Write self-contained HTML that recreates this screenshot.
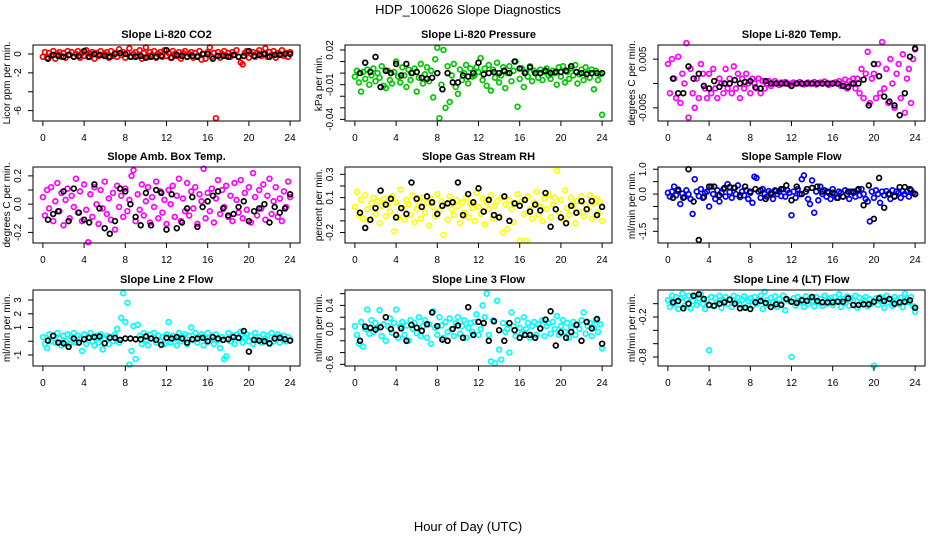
<!DOCTYPE html>
<html><head><meta charset="utf-8"><style>
html,body{margin:0;padding:0;background:#fff}
svg{display:block;font-family:"Liberation Sans",sans-serif}
</style></head><body>
<svg id="chart" width="936" height="540" viewBox="0 0 936 540" xmlns="http://www.w3.org/2000/svg">
<rect width="936" height="540" fill="#fff"/>
<text x="468" y="14" font-size="13" text-anchor="middle">HDP_100626  Slope Diagnostics</text>
<text x="468" y="531" font-size="13" text-anchor="middle">Hour of Day (UTC)</text>
</svg>
<script>
const TIME=[0,0.2,0.4,0.6,0.8,1,1.2,1.4,1.6,1.8,2,2.2,2.4,2.6,2.8,3,3.2,3.4,3.6,3.8,4,4.2,4.4,4.6,4.8,5,5.2,5.4,5.6,5.8,6,6.2,6.4,6.6,6.8,7,7.2,7.4,7.6,7.8,8,8.2,8.4,8.6,8.8,9,9.2,9.4,9.6,9.8,10,10.2,10.4,10.6,10.8,11,11.2,11.4,11.6,11.8,12,12.2,12.4,12.6,12.8,13,13.2,13.4,13.6,13.8,14,14.2,14.4,14.6,14.8,15,15.2,15.4,15.6,15.8,16,16.2,16.4,16.6,16.8,17,17.2,17.4,17.6,17.8,18,18.2,18.4,18.6,18.8,19,19.2,19.4,19.6,19.8,20,20.2,20.4,20.6,20.8,21,21.2,21.4,21.6,21.8,22,22.2,22.4,22.6,22.8,23,23.2,23.4,23.6,23.8,24];
const BLACK_TIME=[0.5,1,1.5,2,2.5,3,3.5,4,4.5,5,5.5,6,6.5,7,7.5,8,8.5,9,9.5,10,10.5,11,11.5,12,12.5,13,13.5,14,14.5,15,15.5,16,16.5,17,17.5,18,18.5,19,19.5,20,20.5,21,21.5,22,22.5,23,23.5,24];
const X_TICKS=[0,4,8,12,16,20,24];

const co2=[-0.3,0.2,-0.4,0.1,-0.2,0.3,-0.5,0.0,0.2,-0.3,0.1,-0.4,0.3,-0.1,0.2,-0.3,0.0,0.3,-0.4,0.1,-0.2,0.4,-0.3,0.0,0.2,-0.5,0.1,-0.2,0.3,-0.1,0.0,0.2,-0.4,0.3,-0.2,0.1,-0.3,0.5,-0.1,0.2,-0.4,0.1,0.6,-0.3,0.0,0.2,-0.2,0.4,-0.5,0.1,0.7,-0.3,0.2,-0.1,0.3,-0.4,0.0,0.2,-0.3,0.4,-0.2,0.1,-0.4,0.3,0.0,-0.2,0.2,-0.5,0.1,0.3,-0.3,0.0,0.2,-0.4,0.1,-0.2,0.3,-0.6,0.0,-0.5,0.2,0.7,-0.3,0.1,-6.8,0.2,-0.4,0.0,0.3,-0.2,0.1,-0.3,0.2,-0.1,0.4,-0.3,-0.9,-1.1,0.1,0.3,-0.4,0.0,0.2,-0.3,0.1,0.4,-0.2,0.0,0.6,-0.3,0.2,-0.1,0.3,-0.4,0.1,0.0,0.4,-0.2,0.1,-0.3,0.2];
const co2Mean=[-0.5,-0.1,-0.2,-0.3,-0.1,-0.3,-0.2,0.3,-0.3,0.0,-0.1,-0.2,-0.3,0.0,0.1,0.0,-0.3,-0.3,-0.2,-0.4,-0.3,-0.3,-0.2,0.4,-0.4,-0.1,-0.2,-0.3,-0.2,-0.3,0.0,0.0,-0.5,-0.2,-0.2,-0.3,-0.1,-0.3,-0.2,0.3,-0.2,-0.1,0.0,-0.3,-0.1,-0.1,0.0,0.0];
const pres=[-0.003,0.002,-0.008,-0.016,0.001,-0.005,0.003,-0.010,-0.002,0.004,-0.007,0.000,-0.004,0.006,-0.011,-0.013,0.002,-0.006,-0.009,0.001,0.010,-0.003,-0.008,0.005,-0.002,-0.012,0.003,-0.006,0.000,0.004,-0.016,-0.004,0.008,-0.009,-0.001,0.005,-0.007,0.002,-0.021,0.012,0.022,-0.039,-0.010,0.020,-0.030,0.006,-0.025,-0.002,0.008,-0.012,-0.018,0.003,-0.006,0.000,0.007,-0.009,0.004,-0.003,-0.002,0.005,0.001,0.013,-0.006,0.004,-0.011,0.007,-0.015,0.003,-0.004,0.009,-0.008,-0.002,0.005,-0.013,0.000,0.006,-0.007,0.002,0.010,-0.029,-0.005,0.004,-0.012,0.001,-0.003,0.006,-0.007,0.002,0.000,-0.004,0.003,-0.006,0.001,0.004,-0.002,-0.005,0.002,0.000,-0.010,0.005,-0.003,0.006,-0.008,0.001,-0.005,0.004,-0.002,0.007,-0.009,-0.001,0.003,-0.006,0.005,0.000,-0.004,0.003,-0.014,0.002,-0.006,-0.001,-0.036];
const presMean=[0.0,0.009,0.001,0.014,-0.012,0.002,0.000,0.008,-0.002,0.008,0.000,0.001,-0.004,-0.005,-0.004,0.0,-0.014,0.0,-0.008,-0.008,-0.002,-0.003,0.0,0.009,-0.001,0.0,0.001,0.0,0.002,0.0,0.010,0.004,0.0,0.005,0.0,0.0,0.002,0.0,0.001,0.001,0.002,0.006,0.001,0.0,-0.001,0.0,0.0,0.0];
const temp=[0.004,-0.002,0.005,0.001,-0.003,0.0055,-0.004,0.002,0.0,0.0083,-0.007,0.003,-0.002,-0.005,0.001,-0.003,0.004,0.002,-0.001,-0.003,0.002,-0.002,0.003,-0.001,-0.003,0.001,0.0,-0.002,0.003,-0.001,0.001,-0.002,0.0035,-0.001,0.002,-0.003,0.001,-0.001,0.002,0.0,-0.002,0.001,0.0,-0.001,0.001,-0.002,0.0005,-0.001,0.0,0.0005,-0.0005,0.0,0.0005,0.0,-0.0003,0.0002,0.0,0.0003,0.0,-0.0002,0.0,0.0002,0.0,0.0,0.0003,0.0,-0.0002,0.0,0.0002,0.0,0.0,0.0003,-0.0002,0.0,0.0002,0.0,0.0004,0.0,-0.0003,0.0,0.0,0.0002,0.0,0.0005,-0.0005,0.0,0.0008,-0.001,0.0005,0.0,0.001,-0.001,0.001,-0.002,0.003,-0.003,0.002,0.0065,-0.004,0.001,0.002,-0.003,0.004,-0.002,0.0085,-0.001,0.003,-0.004,0.005,0.0,-0.005,0.002,0.004,-0.003,0.006,-0.006,0.001,0.003,-0.004,0.005,0.007];
const tempMean=[0.001,-0.002,-0.002,0.0035,0.001,0.002,-0.0005,-0.001,0.0005,-0.0007,0.0,0.0,0.0007,0.0,0.0003,0.0005,-0.0008,-0.001,0.0005,0.0,0.0,0.0,0.0,-0.0005,0.0,0.0,0.0,0.0,0.0,0.0,0.0,0.0,0.0,-0.0005,-0.0007,0.0,0.0,0.0008,-0.0045,0.004,0.0015,-0.0027,-0.0037,-0.0045,-0.0065,-0.002,0.0055,0.0072];
const amb=[0.05,-0.08,0.1,-0.03,0.12,-0.12,0.02,0.15,-0.05,0.08,-0.15,0.03,0.11,-0.1,0.06,-0.02,0.18,-0.06,0.09,-0.12,0.14,-0.04,-0.27,0.07,-0.09,0.12,0.0,-0.14,0.1,-0.03,0.16,-0.07,0.04,-0.11,0.08,-0.18,0.13,-0.02,0.06,-0.09,0.11,-0.05,0.03,0.2,0.24,-0.12,0.07,-0.04,0.14,-0.08,0.02,0.12,-0.13,0.05,-0.02,0.16,-0.1,0.09,-0.06,0.03,-0.14,0.1,0.0,0.13,-0.09,0.06,0.18,-0.12,0.04,-0.05,0.15,-0.08,0.09,-0.03,0.12,-0.14,0.07,0.02,0.25,-0.1,0.08,-0.05,0.11,-0.13,0.04,0.17,-0.07,0.1,-0.02,0.13,-0.09,0.06,-0.12,0.15,0.03,-0.06,0.17,-0.1,0.08,-0.04,0.12,-0.13,0.22,0.05,-0.08,0.1,-0.03,0.14,-0.11,0.06,0.18,-0.07,0.02,0.12,-0.09,0.04,-0.12,0.09,-0.02,0.16,0.05];
const ambMean=[-0.11,-0.07,-0.05,0.09,-0.12,0.11,-0.06,-0.11,-0.13,0.14,-0.03,-0.17,-0.21,-0.12,0.11,0.09,0.0,-0.09,-0.15,0.08,-0.15,0.1,0.08,-0.18,0.07,-0.17,-0.13,-0.03,0.05,-0.16,-0.02,0.02,0.06,0.09,-0.03,-0.08,-0.07,-0.02,0.02,-0.12,-0.05,-0.03,0.0,-0.13,-0.02,-0.06,-0.03,0.07];
const rh=[0.02,0.15,-0.05,0.08,-0.08,0.12,0.0,-0.1,0.05,0.1,-0.04,0.07,-0.12,0.03,0.09,-0.06,0.04,-0.02,0.11,-0.19,0.06,-0.07,0.17,0.01,-0.09,0.08,0.04,-0.05,0.12,-0.11,0.0,0.06,-0.08,0.1,-0.03,0.05,-0.14,0.09,0.02,-0.06,0.13,-0.01,0.07,-0.22,0.04,-0.09,0.11,0.0,-0.05,0.08,0.03,-0.12,0.06,-0.03,0.1,-0.07,0.05,0.01,-0.1,0.14,0.02,-0.04,0.09,-0.13,0.06,0.0,0.12,-0.08,0.03,0.07,-0.06,0.1,-0.2,0.04,-0.17,0.08,0.0,-0.11,0.05,0.13,-0.27,0.07,-0.04,-0.27,0.11,0.0,-0.08,0.06,0.15,-0.05,0.02,-0.1,0.09,0.0,0.13,-0.07,0.04,0.1,0.33,-0.03,0.08,-0.09,0.16,0.01,-0.05,0.1,0.03,-0.12,0.07,-0.02,0.11,-0.06,0.04,0.0,0.12,-0.08,0.05,0.09,-0.03,0.06,-0.1];
const rhMean=[-0.03,-0.16,-0.09,0.01,0.16,0.04,0.09,-0.07,0.01,-0.04,0.23,0.09,0.02,0.11,0.06,-0.04,0.03,0.05,0.06,0.23,-0.05,0.13,0.06,0.18,-0.02,0.08,-0.05,-0.07,0.11,-0.1,0.05,0.03,0.08,-0.02,0.04,-0.01,0.14,-0.15,0.0,-0.07,-0.12,0.03,-0.03,0.07,0.0,0.07,-0.05,0.02];
const samp=[0.05,-0.1,0.1,0.3,-0.05,0.12,-0.4,0.02,-0.12,0.15,0.0,-0.2,-0.8,0.6,0.1,-0.08,0.2,-0.15,0.05,0.1,-0.5,0.3,0.0,-0.2,0.15,-0.3,0.05,0.2,-0.1,0.4,0.08,-0.15,0.25,0.0,0.35,-0.12,0.1,-0.05,0.15,-0.2,0.05,-0.35,0.7,0.65,0.1,-0.15,0.2,0.0,-0.1,0.12,0.05,-0.2,0.15,0.0,0.1,-0.08,0.2,-0.1,0.15,0.05,-0.85,0.1,-0.15,0.2,0.0,0.6,0.75,0.1,-0.2,-0.4,0.55,-0.75,0.1,-0.25,0.3,0.0,0.15,-0.1,0.05,-0.2,0.2,0.0,-0.15,0.1,0.05,-0.1,0.15,0.0,-0.2,0.1,0.05,-0.1,0.15,-0.05,0.2,0.0,-0.2,-0.3,-1.1,0.1,-0.15,0.15,0.0,-0.35,0.1,-0.05,0.12,0.0,-0.2,0.15,-0.08,0.1,0.05,-0.15,0.12,0.0,0.1,-0.1,0.15,0.05,0.0];
const sampMean=[-0.15,0.18,-0.15,1.0,-0.3,-1.85,-0.12,0.3,0.3,-0.05,0.25,0.28,0.25,-0.05,0.3,0.1,0.2,0.15,-0.2,0.0,0.12,0.2,0.35,-0.25,0.3,0.0,0.2,0.25,0.3,0.1,0.1,0.05,-0.15,-0.1,0.1,0.1,0.2,-0.45,0.35,-1.0,0.65,-0.55,0.0,-0.1,0.28,0.28,0.2,0.0];
const l2=[0.3,-0.2,-0.5,0.5,0.0,0.4,-0.1,0.6,0.2,-0.3,0.4,0.0,0.5,-0.2,0.3,0.6,-0.1,0.4,0.2,-0.7,0.5,-0.2,0.3,0.6,0.0,-0.3,0.4,-0.1,0.5,-0.6,0.2,0.4,-0.2,0.3,0.0,0.5,0.9,-0.1,1.7,3.5,1.4,2.8,-1.7,-0.7,1.1,-1.3,1.2,0.4,-0.2,0.6,0.1,-0.3,0.5,0.2,0.6,-0.1,0.4,0.0,0.3,-0.2,0.5,1.4,-0.1,0.4,0.2,-0.3,0.6,0.0,0.3,0.5,-0.2,0.4,1.0,0.1,0.6,-0.1,0.3,0.5,-0.3,0.2,0.6,0.0,0.4,-0.2,0.5,0.1,-0.5,0.3,-1.3,-1.1,0.6,0.0,0.4,-0.2,0.5,0.2,0.7,-0.1,0.3,0.5,0.0,0.4,-0.2,0.6,0.1,0.3,-0.1,0.5,0.2,0.4,-0.2,0.6,0.0,0.3,0.5,-0.1,0.2,0.4,0.0,0.3,0.1];
const l2Mean=[0.05,0.4,-0.1,-0.15,-0.4,0.2,-0.1,0.15,0.25,0.3,0.35,-0.15,0.25,0.25,0.1,0.2,0.2,0.15,0.15,0.35,0.2,0.1,-0.25,0.25,0.2,0.3,0.2,-0.1,0.15,0.2,0.25,0.0,0.3,0.2,0.1,0.15,0.3,0.25,0.75,-0.75,0.1,0.05,0.0,-0.15,0.2,0.25,0.15,0.05];
const l3=[0.05,-0.1,-0.25,0.12,-0.3,0.0,0.33,-0.08,0.15,-0.05,0.1,0.02,0.32,-0.12,0.08,-0.2,0.05,0.18,-0.06,0.1,0.33,-0.15,0.04,0.12,-0.1,0.06,-0.2,0.15,0.0,0.1,-0.07,0.2,-0.12,0.05,0.15,-0.15,0.08,-0.25,0.3,0.02,-0.1,0.2,0.06,-0.15,0.12,-0.05,0.18,0.0,-0.12,0.1,0.2,-0.08,0.05,0.15,-0.15,0.02,0.1,-0.05,0.12,0.25,-0.1,0.0,0.4,0.2,0.6,-0.1,-0.55,0.15,-0.58,0.48,-0.35,-0.52,0.1,-0.05,0.0,-0.4,0.28,0.05,-0.12,0.15,0.02,-0.08,0.2,0.0,0.1,-0.15,0.05,0.12,-0.1,0.08,0.0,0.15,-0.12,0.05,0.1,-0.08,0.12,0.0,0.22,-0.1,0.05,0.15,-0.05,0.1,-0.15,0.02,0.12,-0.1,0.08,0.0,0.15,0.28,-0.08,0.05,0.1,-0.12,0.02,0.15,-0.05,0.08,-0.33];
const l3Mean=[-0.2,0.04,0.02,-0.01,0.03,0.2,0.0,-0.1,0.01,-0.2,0.07,0.02,-0.03,0.08,0.28,0.05,-0.18,-0.2,0.0,0.06,-0.15,0.37,-0.1,0.12,0.1,-0.2,0.13,-0.02,-0.2,0.1,-0.02,-0.15,-0.1,-0.1,-0.15,0.01,0.16,0.3,-0.28,-0.06,-0.15,-0.05,0.07,-0.2,0.12,0.01,0.17,-0.25];
const l4=[0.05,-0.05,0.12,0.0,0.1,-0.08,0.08,0.15,-0.03,0.06,0.12,-0.07,0.04,0.1,-0.02,0.08,0.14,0.0,-0.08,0.06,-0.7,0.1,-0.04,0.08,0.02,0.12,-0.06,0.05,0.1,0.0,0.07,-0.05,0.12,0.03,0.09,-0.02,0.06,0.11,-0.06,0.04,0.08,-0.03,0.1,0.0,0.06,0.12,-0.08,0.18,0.05,-0.02,0.09,0.02,0.11,-0.05,0.07,0.0,0.12,-0.1,0.06,0.04,-0.8,0.08,-0.03,0.1,0.02,0.06,-0.05,0.11,0.0,0.08,0.04,-0.04,0.1,0.02,0.07,-0.03,0.12,0.0,0.06,0.09,-0.02,0.1,0.04,0.14,-0.05,0.07,0.01,0.11,-0.03,0.08,0.05,0.12,-0.06,0.09,0.02,0.06,0.1,-0.04,0.07,0.0,-0.93,0.08,-0.02,0.1,0.04,-0.06,0.12,0.02,0.07,-0.03,0.1,0.05,0.0,0.09,-0.05,0.15,0.06,0.02,0.1,-0.04,-0.12];
const l4Mean=[0.02,0.04,-0.07,0.0,0.12,0.14,0.07,-0.02,-0.03,0.0,0.02,0.06,0.0,-0.07,-0.06,-0.08,0.02,0.04,0.01,-0.05,-0.01,-0.02,0.07,0.03,0.01,0.05,0.04,0.1,0.04,0.02,0.02,0.02,0.03,0.03,0.08,-0.02,-0.02,-0.01,-0.01,0.03,0.08,0.04,0.07,0.0,0.02,0.03,0.05,-0.06];

const TITLES=["Slope Li-820 CO2","Slope Li-820 Pressure","Slope Li-820 Temp.","Slope Amb. Box Temp.","Slope Gas Stream RH","Slope Sample Flow","Slope Line 2 Flow","Slope Line 3 Flow","Slope Line 4 (LT) Flow"];
const YLABELS=["Licor ppm per min.","kPa per min.","degrees C per min.","degrees C per min.","percent per min.","ml/min per min.","ml/min per min.","ml/min per min.","ml/min per min."];
const YTICKS=[[0,-2,-4,-6],[0.02,0.01,0,-0.01,-0.02,-0.03,-0.04],[0.005,0,-0.005],[0.2,0.1,0,-0.1,-0.2],[0.3,0.2,0.1,0,-0.1,-0.2],[1,0.5,0,-0.5,-1,-1.5],[3,2,1,0,-1],[0.6,0.4,0.2,0,-0.2,-0.4,-0.6],[0,-0.2,-0.4,-0.6,-0.8]];
const YTICKLABELS=[["0","-2","","-6"],["0.02","","","-0.01","","","-0.04"],["0.005","","-0.005"],["0.2","","0.0","","-0.2"],["0.3","","0.1","","","-0.2"],["1.0","","0.0","","","-1.5"],["3","2","1","","-1"],["","0.4","","0.0","","","-0.6"],["","-0.2","","","-0.8"]];
const YRANGES=[[-7.1,0.95],[-0.0414,0.0243],[-0.0077,0.0079],[-0.275,0.263],[-0.29,0.363],[-1.97,1.09],[-1.8,3.73],[-0.628,0.662],[-0.935,0.205]];
const SERIES=[co2,pres,temp,amb,rh,samp,l2,l3,l4];
const MEANS=[co2Mean,presMean,tempMean,ambMean,rhMean,sampMean,l2Mean,l3Mean,l4Mean];
const COLORS=["#ff0000","#00c800","#ff00ff","#ff00ff","#ffff00","#0000ff","#00ffff","#00ffff","#00ffff"];
const NAMES=["co2","pressure","licor-temp","amb-box-temp","gas-rh","sample-flow","line2-flow","line3-flow","line4-flow"];

const NS="http://www.w3.org/2000/svg";
const svg=document.getElementById('chart');
const BOX_L=[33,345,658],BOX_T=[45,167,290],BW=267,BH=76;
function mk(tag,attrs,parent){const e=document.createElementNS(NS,tag);for(const k in attrs)e.setAttribute(k,attrs[k]);parent.appendChild(e);return e;}

for(let p=0;p<9;p++){
  const L=BOX_L[p%3],T=BOX_T[Math.floor(p/3)];
  const xS=h=>L+(h+0.96)/25.92*BW;
  const [y0,y1]=YRANGES[p];
  const yS=v=>T+BH-(v-y0)/(y1-y0)*BH;
  const g=mk('g',{},svg);
  
  
  const t=mk('text',{x:L+BW/2,y:T-7,'font-size':11,'font-weight':'bold','text-anchor':'middle'},g);
  t.textContent=TITLES[p];
  
  
  const yl=mk('text',{x:0,y:0,'font-size':10,'text-anchor':'middle',transform:`translate(${L-23},${T+BH/2}) rotate(-90)`},g);
  yl.textContent=YLABELS[p];
  
  
  const pts=mk('g',{fill:'none','stroke-width':1.7},g);
  
  
  SERIES[p].forEach((v,i)=>{if(i>=TIME.length)return;
    const c=mk('circle',{cx:xS(TIME[i]).toFixed(1),cy:yS(v).toFixed(1),r:2.4,stroke:COLORS[p]},pts);
    
    
  });
  MEANS[p].forEach((v,i)=>{if(i>=BLACK_TIME.length)return;
    const c=mk('circle',{cx:xS(BLACK_TIME[i]).toFixed(1),cy:yS(v).toFixed(1),r:2.4,stroke:'#000'},pts);
    
    
  });
  const box=mk('rect',{x:L,y:T,width:BW,height:BH,fill:'none',stroke:'#000','stroke-width':1},g);
  
  
  const xa=mk('g',{},g);
  
  
  X_TICKS.forEach(h=>{const x=xS(h);
    mk('line',{x1:x,x2:x,y1:T+BH,y2:T+BH+5,stroke:'#000'},xa);
    const tl=mk('text',{x:x,y:T+BH+20,'font-size':10,'text-anchor':'middle'},xa);
    tl.textContent=String(h);
    
    
  });
  const ya=mk('g',{},g);
  
  
  YTICKS[p].forEach((v,i)=>{const y=yS(v);
    mk('line',{x1:L-5,x2:L,y1:y,y2:y,stroke:'#000'},ya);
    if(YTICKLABELS[p][i]){
      const tl=mk('text',{x:0,y:0,'font-size':10,'text-anchor':'middle',transform:`translate(${L-12},${y}) rotate(-90)`},ya);
      tl.textContent=YTICKLABELS[p][i];
      
      
    }
  });
}
</script>
</body></html>
